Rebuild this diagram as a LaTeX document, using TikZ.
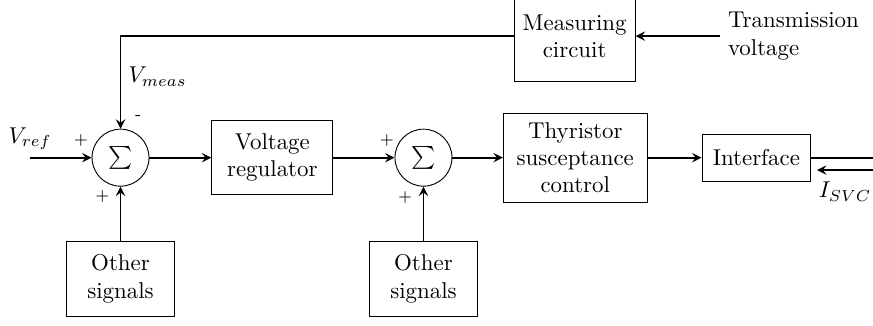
\documentclass[tikz,border=0pt]{standalone}
\usetikzlibrary{arrows}
\begin{document}
\begin{tikzpicture}
	[block/.style={draw, thin, align=center, inner sep=2pt},
	sum/.style={draw, circle, minimum size=0.875cm, inner sep=0pt},
	sgn/.style={font=\scriptsize, inner sep=0pt},
	sig/.style={thick, -stealth}]
	\useasboundingbox (-1.85,-2.57) rectangle (11.55,2.42);
	\node[sum] (s1) at (0,0) {$\sum$};
	\node[block, minimum width=1.86cm, minimum height=1.14cm] (reg) at (2.33,0) {Voltage\\regulator};
	\node[sum] (s2) at (4.65,0) {$\sum$};
	\node[block, minimum width=2.21cm, minimum height=1.37cm] (thy) at (6.98,0) {Thyristor\\susceptance\\control};
	\node[block, minimum width=1.67cm, minimum height=0.72cm] (intf) at (9.76,0) {Interface};
	\node[block, minimum width=1.86cm, minimum height=1.4cm] (meas) at (6.97,1.865) {Measuring\\circuit};
	\node[block, minimum width=1.67cm, minimum height=1.15cm] (o1) at (0,-1.86) {Other\\signals};
	\node[block, minimum width=1.67cm, minimum height=1.15cm] (o2) at (4.65,-1.86) {Other\\signals};
	
	\node[anchor=west, align=left] (tv) at (9.2,1.865) {Transmission\\voltage};
	\coordinate (vin) at (-1.39,0);
	\coordinate (out) at (11.55,0);
	\coordinate (iin) at (11.55,-0.19);
	\coordinate (itip) at (10.69,-0.19);
	\node[above] (vref) at (vin) {$V_{ref}$};
	\node[right] (vm) at (0,1.24) {$V_{meas}$};
	\node[below left, inner sep=2pt] (isvc) at (11.6,-0.3) {$I_{SVC}$};
	
	\node[sgn] (p1) at (-0.61,0.27) {+};
	\node[sgn] (p2) at (-0.28,-0.59) {+};
	\node[sgn] (m1) at (0.27,0.62) {-};
	\node[sgn] (p3) at (4.09,0.27) {+};
	\node[sgn] (p4) at (4.37,-0.61) {+};
	
	\draw[sig] (vin) -- (s1);
	\draw[sig] (s1) -- (reg);
	\draw[sig] (reg) -- (s2);
	\draw[sig] (s2) -- (thy);
	\draw[sig] (thy) -- (intf);
	\draw[thick] (intf) -- (out);
	\draw[sig] (iin) -- (itip);
	\draw[sig] (tv.west) -- (meas.east);
	\draw[sig] (meas.west) -| (s1.north);
	\draw[sig] (o1) -- (s1);
	\draw[sig] (o2) -- (s2);
\end{tikzpicture}
\end{document}
